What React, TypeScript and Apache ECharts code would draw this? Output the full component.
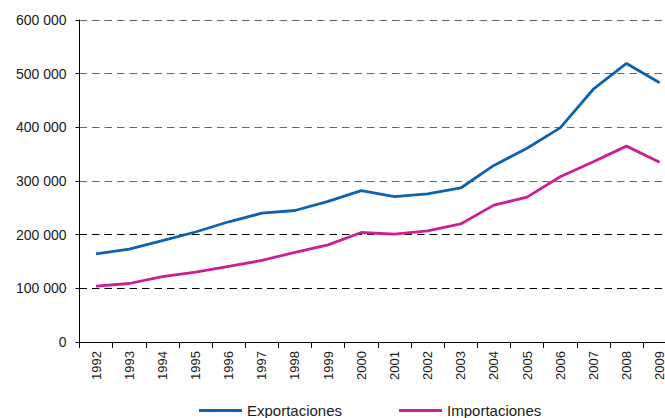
import React, { useEffect, useRef } from "react";
import * as echarts from "echarts";

const years = ["1992","1993","1994","1995","1996","1997","1998","1999","2000","2001","2002","2003","2004","2005","2006","2007","2008","2009"];
const exportaciones = [164000,173000,189000,205000,224000,240000,245000,262000,282000,271000,276000,287000,329000,361000,399000,471000,519000,483000];
const importaciones = [104000,109000,122000,130000,141000,152000,167000,181000,204000,201000,207000,220000,255000,270000,308000,336000,365000,335000];
const seriesNames = ["Exportaciones", "Importaciones"];
const colors = ["#0d63ae", "#cc1f97"];

function fmt(v: number): string {
  if (v === 0) return "0";
  const s = String(v);
  return s.replace(/\B(?=(\d{3})+(?!\d))/g, " ");
}

export default function App() {
  const ref = useRef<HTMLDivElement>(null);
  useEffect(() => {
    document.body.style.margin = "0";
    const chart = echarts.init(ref.current!, null, { renderer: "svg" });
    const font = "'Liberation Sans', Arial, sans-serif";
    chart.setOption({
      animation: false,
      textStyle: { fontFamily: font },
      grid: { left: 79.5, top: 20, bottom: 76, width: 596.7, containLabel: false, outerBoundsMode: "none" },
      legend: {
        left: 194,
        top: 398,
        icon: "rect",
        itemWidth: 43,
        itemHeight: 3,
        itemGap: 57,
        textStyle: { fontSize: 15, color: "#1a1a1a", fontFamily: font },
        data: seriesNames,
      },
      xAxis: {
        type: "category",
        data: years,
        boundaryGap: true,
        axisLine: { lineStyle: { color: "#000", width: 1 } },
        axisTick: { show: true, length: 6, alignWithLabel: false, lineStyle: { color: "#000" } },
        axisLabel: { rotate: 90, fontSize: 13, color: "#1a1a1a", margin: 9, fontFamily: font },
        splitLine: { show: false },
      },
      yAxis: {
        type: "value",
        min: 0,
        max: 600000,
        interval: 100000,
        axisLine: { show: true, lineStyle: { color: "#000", width: 1 } },
        axisTick: { show: true, length: 4, lineStyle: { color: "#000" } },
        axisLabel: { fontSize: 14, color: "#1a1a1a", margin: 13, formatter: (v: number) => fmt(v), fontFamily: font },
        splitLine: {
          show: true,
          lineStyle: {
            type: [7.5, 5],
            width: 1,
            color: ["#000", "#000", "#000", "#666", "#666", "#666", "#666"],
          },
        },
      },
      series: [
        {
          name: seriesNames[0],
          type: "line",
          data: exportaciones,
          symbol: "none",
          lineStyle: { color: colors[0], width: 2.8 },
          itemStyle: { color: colors[0] },
        },
        {
          name: seriesNames[1],
          type: "line",
          data: importaciones,
          symbol: "none",
          lineStyle: { color: colors[1], width: 2.8 },
          itemStyle: { color: colors[1] },
        },
      ],
    });
    return () => chart.dispose();
  }, []);
  return <div ref={ref} style={{ width: 665, height: 418, position: "absolute", left: 0, top: 0 }} />;
}
